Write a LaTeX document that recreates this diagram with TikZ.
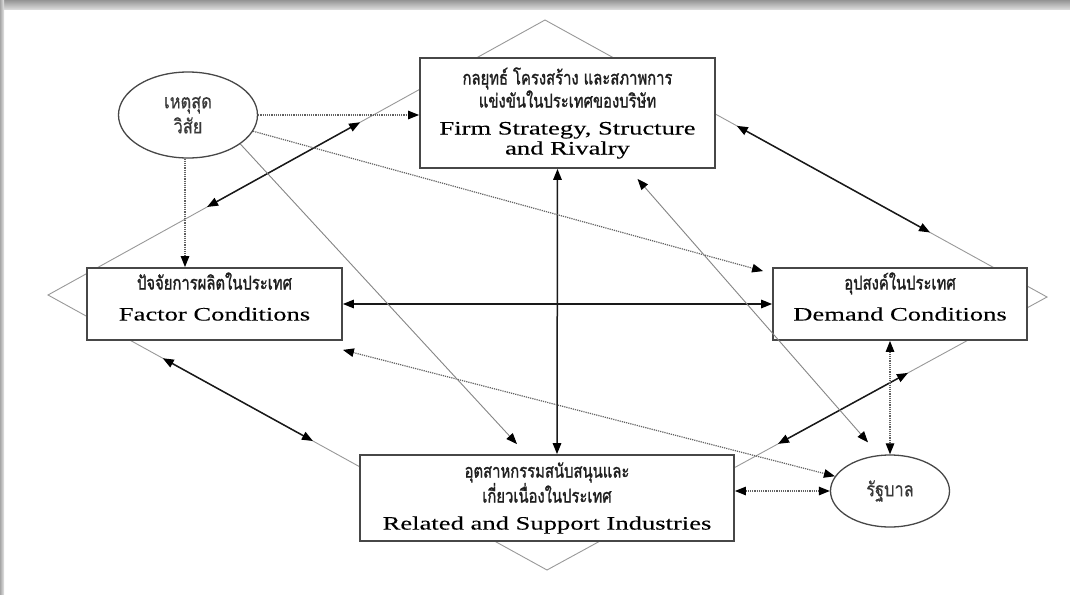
\documentclass[tikz,border=0pt]{standalone}
\usepackage{fontspec}
\setmainfont{Liberation Serif}
\newfontfamily\thaib[Script=Thai,FakeBold=1.3,FakeStretch=0.78]{Loma}
\newfontfamily\thaio[Script=Thai,FakeBold=0.4,FakeStretch=0.82]{Loma}
\newfontfamily\eng[FakeStretch=1.4,FakeBold=0.1]{Liberation Serif}
\usetikzlibrary{arrows.meta,shapes.geometric,calc}
\newcommand\thb{\thaib\fontsize{19}{20}\selectfont\color{black!88}}
\newcommand\tho{\thaio\fontsize{20}{20}\selectfont\color{black!78}}
\newcommand\en{\eng\fontsize{19}{20}\selectfont\color{black}}
\tikzset{
  box/.style={draw=black!72, line width=1.8pt, fill=white, inner sep=0pt, align=center,
    font=\fontsize{15}{20}\selectfont},
  oval/.style={ellipse, draw=black!72, line width=1.3pt, fill=white, inner sep=0pt, align=center,
    font=\fontsize{18}{20}\selectfont},
  diam/.style={draw=black!40, line width=0.9pt},
  boldarr/.style={line width=1.5pt, draw=black!90},
  dotarr/.style={densely dotted, line width=1.2pt, draw=black!62},
  thinarr/.style={line width=0.9pt, draw=black!48},
}
\begin{document}
\lineskiplimit=-50pt
\begin{tikzpicture}[x=1pt,y=-1pt,>={Triangle[length=11pt,width=8.5pt,color=black]}]
\useasboundingbox (0,0) rectangle (1070,594);
\fill[white] (0,0) rectangle (1070,594);
\shade[top color=black!42, bottom color=black!12] (0,0) rectangle (1070,10);
\shade[left color=black!35, right color=black!10] (0,0) rectangle (4,594);

% diamond
\coordinate (L) at (48,295);
\coordinate (T) at (545,20);
\coordinate (R) at (1047,297);
\coordinate (B) at (547,570);
\draw[diam] (L) -- (T) -- (R) -- (B) -- cycle;

% nodes
\node[box, minimum width=295pt, minimum height=110pt] (FS) at (567.5,113)
  {\thb กลยุทธ์ โครงสร้าง และสภาพการ\\[3pt]
   \thb แข่งขันในประเทศของบริษัท\\[7pt]
   \en Firm Strategy, Structure\\
   \en and Rivalry};
\node[box, minimum width=255pt, minimum height=72pt, text depth=15pt] (FC) at (214.5,304)
  {\thb ปัจจัยการผลิตในประเทศ\\[11pt]
   \en Factor Conditions};
\node[box, minimum width=254pt, minimum height=72pt, text depth=15pt] (DC) at (900,304)
  {\thb อุปสงค์ในประเทศ\\[11pt]
   \en Demand Conditions};
\node[box, minimum width=374pt, minimum height=86pt, text depth=4pt] (RS) at (547,498)
  {\thb อุตสาหกรรมสนับสนุนและ\\[5pt]
   \thb เกี่ยวเนื่องในประเทศ\\[7pt]
   \en Related and Support Industries};
\node[oval, minimum width=139pt, minimum height=86pt] (E) at (188,115)
  {\tho เหตุสุด\\[5pt] \tho วิสัย};
\node[oval, minimum width=119pt, minimum height=72pt] (G) at (890,491)
  {\tho รัฐบาล};

% points on the diamond for the bold arrows
\coordinate (a1) at ($(L)!0.32!(T)$);
\coordinate (a2) at ($(L)!0.628!(T)$);
\coordinate (b1) at ($(T)!0.382!(R)$);
\coordinate (b2) at ($(T)!0.767!(R)$);
\coordinate (c1) at ($(L)!0.23!(B)$);
\coordinate (c2) at ($(L)!0.531!(B)$);
\coordinate (d1) at ($(R)!0.278!(B)$);
\coordinate (d2) at ($(R)!0.538!(B)$);

% bold arrows
\draw[boldarr,<->] (a1) -- (a2);
\draw[boldarr,<->] (b1) -- (b2);
\draw[boldarr,<->] (c1) -- (c2);
\draw[boldarr,<->] (d1) -- (d2);
\draw[boldarr,<->] ([xshift=-10pt]FS.south) -- ([xshift=10pt]RS.north);
\draw[boldarr,<->] (FC.east) -- (DC.west);

% dotted arrows
\draw[dotarr,->] (E.east) -- (E.east -| FS.west);
\draw[dotarr,->] ([xshift=-3pt]E.south) -- ([xshift=-3pt]E.south |- FC.north);
\draw[dotarr,->] (E.-14) -- ([xshift=-9pt,yshift=-4pt]DC.north west);
\draw[dotarr,<->] (G.west -| RS.east) -- (G.west);
\draw[dotarr,<->] (G.north |- DC.south) -- (G.north);
\draw[dotarr,<->] ([yshift=-9pt]FC.south east) -- (G.165);

% thin grey arrows
\draw[thinarr,->] (E.-29) -- ([xshift=-30pt,yshift=10pt]RS.north);
\draw[thinarr,<->] ([xshift=70pt,yshift=-10pt]FS.south) -- ([xshift=-22pt,yshift=12pt]G.north);
\end{tikzpicture}
\end{document}
